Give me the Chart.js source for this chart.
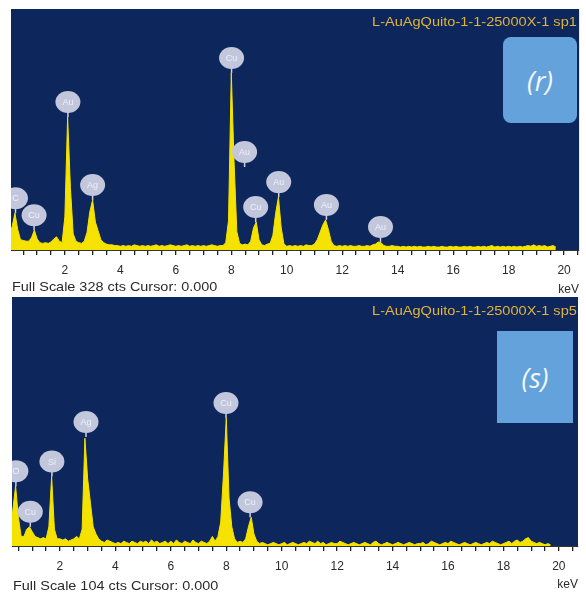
<!DOCTYPE html>
<html><head><meta charset="utf-8">
<script src="https://cdn.jsdelivr.net/npm/chart.js@4/dist/chart.umd.min.js"></script>
<style>
html,body{margin:0;padding:0;background:#fff;}
#wrap{position:relative;width:586px;height:594px;overflow:hidden;background:#fff;}
canvas{position:absolute;left:0;}
.t{position:absolute;font-family:"Liberation Sans",Arial,sans-serif;white-space:nowrap;line-height:1;}
.fs{font-size:13px;color:#2a2a2a;transform-origin:left top;transform:scaleX(1.11);}
.kev{font-size:12px;color:#2a2a2a;}
.ttl{font-size:13px;color:#e0b43a;transform-origin:right top;transform:scaleX(1.12);}
.box{position:absolute;background:#64a2dc;color:#f4f8ff;font-family:"Open Sans","Noto Sans",sans-serif;font-style:italic;font-size:27px;display:flex;align-items:center;justify-content:center;}
</style></head>
<body><div id="wrap">
<canvas id="cR" width="586" height="293" style="top:0"></canvas>
<canvas id="cS" width="586" height="301" style="top:293px"></canvas>
<div class="t ttl" style="right:9px;top:15px">L-AuAgQuito-1-1-25000X-1 sp1</div>
<div class="box" style="left:503px;top:37px;width:74px;height:86px;border-radius:8px">(r)</div>
<div class="t fs" style="left:12px;top:280px">Full Scale 328 cts Cursor: 0.000</div>
<div class="t kev" style="right:7px;top:283px">keV</div>
<div class="t ttl" style="right:9px;top:304px">L-AuAgQuito-1-1-25000X-1 sp5</div>
<div class="box" style="left:497px;top:331px;width:76px;height:92px">(s)</div>
<div class="t fs" style="left:13px;top:579px">Full Scale 104 cts Cursor: 0.000</div>
<div class="t kev" style="right:8px;top:578px">keV</div>
</div>
<script>
// ---- data ----
const energyStep = 0.1; // keV per channel, first channel at 0.0 keV
const tickLabels = [2, 4, 6, 8, 10, 12, 14, 16, 18, 20];

// Spectrum (r): counts per channel, 0.0 .. 19.7 keV
const countsR = [
  20, 32, 50, 28, 14, 13, 12, 12, 17, 27,
  15, 10, 9, 10, 9, 11, 15, 18, 12, 10,
  45, 181, 85, 22, 12, 10, 9, 12, 24, 52,
  68, 38, 26, 14, 10, 8, 7, 7, 6, 6,
  5, 6, 5, 6, 5, 7, 6, 5, 6, 5,
  6, 5, 6, 7, 5, 6, 5, 6, 7, 6,
  5, 6, 5, 6, 7, 5, 6, 5, 6, 5,
  6, 5, 6, 7, 6, 5, 6, 6, 10, 40,
  241, 120, 25, 9, 7, 8, 7, 12, 30, 38,
  14, 7, 6, 8, 9, 20, 50, 72, 30, 8,
  5, 6, 5, 6, 5, 6, 5, 7, 6, 6,
  8, 14, 24, 34, 41, 28, 12, 6, 5, 6,
  5, 6, 5, 6, 5, 5, 6, 5, 5, 6,
  5, 7, 8, 11, 10, 6, 5, 5, 6, 5,
  5, 4, 5, 4, 5, 4, 5, 4, 5, 4,
  4, 5, 4, 5, 4, 4, 5, 4, 4, 5,
  4, 5, 4, 4, 5, 4, 5, 4, 4, 5,
  4, 5, 4, 5, 6, 4, 5, 4, 5, 4,
  5, 4, 5, 4, 5, 4, 5, 6, 5, 7,
  5, 6, 5, 6, 4, 5, 6, 4
];
const fullScaleR = 328;
const peakEnergyR = [0.22, 0.89, 2.11, 3.0, 8.01, 8.48, 8.88, 9.71, 11.43, 13.38];
const peakCountR  = [50, 27, 181, 68, 241, 113, 38, 72, 41, 11];
const peakNameR   = ['C', 'Cu', 'Au', 'Ag', 'Cu', 'Au', 'Cu', 'Au', 'Au', 'Au'];

// Spectrum (s): counts per channel, 0.0 .. 19.7 keV
const countsS = [
  0, 0, 5, 15, 25, 12, 4, 4, 7, 8,
  6, 4, 3.5, 3, 3.5, 3, 8, 29, 7, 3,
  3, 2.5, 3, 2, 2.5, 3, 4, 3, 7, 45,
  28, 18, 8, 5, 3, 2, 1.5, 2.5, 2, 1.5,
  1, 1.5, 1, 2, 1.5, 1, 2, 1.5, 1, 2,
  1.5, 2, 1, 2.5, 1.5, 2, 1, 1.5, 2, 1,
  2, 1, 2.5, 1.5, 1, 2, 1.5, 1, 2.5, 1.5,
  1, 2, 1.5, 1, 2, 4, 2, 4, 10, 30,
  53.5, 20, 8, 3, 1.5, 2, 1.5, 3, 8, 12,
  5, 2, 1, 1.5, 1, 0.5, 1, 1.5, 1, 0.5,
  1, 1.5, 0.5, 1, 1.5, 1, 0.5, 1, 1.5, 1,
  2, 1.5, 1, 2, 1, 1.5, 0.5, 1, 1.5, 1,
  1, 2, 1.5, 1, 0.5, 1, 1.5, 1, 0.5, 1,
  1.5, 1, 0.5, 1.5, 2, 1, 0.5, 1, 1.5, 1,
  0.5, 1, 1.5, 1, 0.5, 1, 1.5, 1, 0.5, 1,
  1, 1.5, 0.5, 1, 2, 1.5, 1, 0.5, 1, 1.5,
  1, 2, 1.5, 1, 0.5, 1, 1.5, 1, 0.5, 1,
  1.5, 1, 0.5, 1, 1.5, 1, 2, 1.5, 1, 0.5,
  1, 1.5, 2, 1, 2, 2.5, 1.5, 2, 3, 3.5,
  2, 1.5, 1, 1.5, 1, 0.5, 1, 0.5
];
const fullScaleS = 104;
const peakEnergyS = [0.41, 0.93, 1.71, 2.94, 7.99, 8.86];
const peakCountS  = [25, 8, 29, 45.5, 53.5, 12];
const peakNameS   = ['O', 'Cu', 'Si', 'Ag', 'Cu', 'Cu'];

// ---- drawing ----
const NAVY = '#0d265c', YELLOW = '#f6e200';

const bgPlugin = {
  id: 'plotBg',
  beforeDraw(chart) {
    const {ctx, chartArea: a} = chart;
    ctx.save();
    ctx.fillStyle = NAVY;
    ctx.fillRect(a.left, a.top, a.right - a.left, a.bottom - a.top);
    ctx.restore();
  }
};

const peakPlugin = {
  id: 'peakLabels',
  afterDatasetsDraw(chart, args, opts) {
    const {ctx, chartArea: a, scales: {x, y}} = chart;
    ctx.save();
    ctx.beginPath();
    ctx.rect(a.left, a.top, a.right - a.left, a.bottom - a.top);
    ctx.clip();
    opts.energy.forEach((e, i) => {
      const px = x.getPixelForValue(e);
      const py = y.getPixelForValue(opts.count[i]);
      const cy = py - 15;
      ctx.strokeStyle = '#cfd3e6';
      ctx.lineWidth = 1.5;
      ctx.beginPath();
      ctx.moveTo(px, cy + 8);
      ctx.lineTo(px, py);
      ctx.stroke();
      ctx.fillStyle = '#c3c7dc';
      ctx.beginPath();
      ctx.ellipse(px, cy, 12.5, 11, 0, 0, Math.PI * 2);
      ctx.fill();
      ctx.fillStyle = '#eef0fb';
      ctx.font = '9px "Liberation Sans", Arial, sans-serif';
      ctx.textAlign = 'center';
      ctx.textBaseline = 'middle';
      ctx.fillText(opts.name[i], px, cy + 0.5);
    });
    ctx.restore();
  }
};

function makeChart(id, counts, fullScale, xmin, xmax, pad, axisH, peaks) {
  const pts = counts.map((c, i) => ({x: +(i * energyStep).toFixed(2), y: c}));
  return new Chart(document.getElementById(id), {
    type: 'line',
    data: {datasets: [{
      data: pts, fill: 'origin', backgroundColor: YELLOW, borderColor: YELLOW,
      borderWidth: 1, pointRadius: 0, tension: 0
    }]},
    options: {
      responsive: false, animation: false, devicePixelRatio: 1,
      layout: {padding: pad},
      plugins: {legend: {display: false}, tooltip: {enabled: false}, peakLabels: peaks},
      scales: {
        x: {
          type: 'linear', min: xmin, max: xmax,
          afterBuildTicks(axis) {
            const t = [];
            for (let v = 0.5; v <= xmax; v += 0.5) t.push({value: v});
            axis.ticks = t;
          },
          afterFit(s) { s.height = axisH; },
          ticks: {
            autoSkip: false, maxRotation: 0, padding: 8, color: '#2a2a2a',
            font: {family: '"Liberation Sans", Arial, sans-serif', size: 12},
            callback: (v) => tickLabels.includes(v) ? String(v) : ''
          },
          grid: {drawOnChartArea: false, drawTicks: true, tickLength: 5, lineWidth: 1.3, color: '#222', tickColor: '#222'},
          border: {display: true, color: '#333', width: 1}
        },
        y: {display: false, min: 0, max: fullScale}
      }
    },
    plugins: [bgPlugin, peakPlugin]
  });
}

makeChart('cR', countsR, fullScaleR, 0.058, 20.54, {left: 11, right: 6, top: 9, bottom: 0}, 43,
  {energy: peakEnergyR, count: peakCountR, name: peakNameR});
makeChart('cS', countsS, fullScaleS, 0.27, 20.69, {left: 12, right: 8, top: 4, bottom: 0}, 48,
  {energy: peakEnergyS, count: peakCountS, name: peakNameS});
</script>
</body></html>
